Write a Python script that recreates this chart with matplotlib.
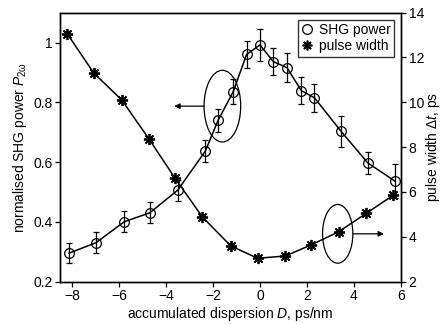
import matplotlib
matplotlib.use("Agg")
import matplotlib.pyplot as plt
from matplotlib.patches import Ellipse

plt.rcParams['font.family'] = ['Liberation Sans', 'DejaVu Sans']
plt.rcParams['mathtext.fontset'] = 'custom'
plt.rcParams['mathtext.rm'] = 'Liberation Sans'
plt.rcParams['mathtext.it'] = 'Liberation Sans:italic'

# SHG power (left axis)
shg_d = [-8.13, -6.98, -5.78, -4.69, -3.50, -2.33, -1.78, -1.14, -0.57, 0.0,
         0.57, 1.15, 1.76, 2.32, 3.45, 4.59, 5.73]
shg_p = [0.295, 0.33, 0.40, 0.43, 0.506, 0.636, 0.74, 0.835, 0.96, 0.992,
         0.936, 0.916, 0.839, 0.815, 0.703, 0.597, 0.537]
shg_err = [0.034, 0.035, 0.035, 0.035, 0.035, 0.037, 0.039, 0.042, 0.046, 0.053,
           0.045, 0.049, 0.045, 0.046, 0.052, 0.037, 0.057]

# pulse width (right axis)
pw_d = [-8.2, -7.07, -5.88, -4.71, -3.62, -2.45, -1.24, -0.1, 1.08, 2.17,
        3.35, 4.52, 5.67]
pw_t = [13.05, 11.3, 10.1, 8.34, 6.62, 4.88, 3.59, 3.04, 3.14, 3.63,
        4.22, 5.04, 5.85]

fig = plt.figure(figsize=(4.42, 3.24), dpi=100)
ax = fig.add_axes([0.1364, 0.131, 0.7706, 0.830])
ax2 = ax.twinx()

fs = 10
star = (8, 2, 0)

ax.errorbar(shg_d, shg_p, yerr=shg_err, color='black', lw=1.1,
            marker='o', mfc='none', mec='black', ms=7, mew=0.9,
            capsize=2.2, elinewidth=0.9, capthick=0.9)
ax2.plot(pw_d, pw_t, color='black', lw=1.1, marker=star, ms=8, mew=1.3)

ax.set_xlim(-8.5, 6)
ax.set_ylim(0.2, 1.1)
ax2.set_ylim(2, 14)
ax.set_xticks([-8, -6, -4, -2, 0, 2, 4, 6])
ax.set_xticklabels(['\u22128', '\u22126', '\u22124', '\u22122', '0', '2', '4', '6'])
ax.set_yticks([0.2, 0.4, 0.6, 0.8, 1.0])
ax.set_yticklabels(['0.2', '0.4', '0.6', '0.8', '1'])
ax2.set_yticks([2, 4, 6, 8, 10, 12, 14])

for a in (ax, ax2):
    a.tick_params(direction='out', length=3.5, width=0.9, labelsize=fs, pad=2)
    for s in a.spines.values():
        s.set_linewidth(1.0)

ax.set_xlabel('accumulated dispersion $\\it{D}$, ps/nm', fontsize=fs, labelpad=1)
ax.set_ylabel('normalised SHG power $\\it{P}_{\\rm 2\u03c9}$', fontsize=fs, labelpad=3)
ax2.set_ylabel('pulse width \u0394$\\it{t}$, ps', fontsize=fs, labelpad=0)

# ellipses and arrows
ax.add_patch(Ellipse((-1.6, 0.787), 1.56, 0.24, fill=False, lw=0.9, ec='black'))
ax.annotate('', xy=(-3.65, 0.787), xytext=(-2.38, 0.787),
            arrowprops=dict(arrowstyle='-|>', color='black', lw=0.9,
                            mutation_scale=8, shrinkA=0, shrinkB=0))
ax2.add_patch(Ellipse((3.31, 4.13), 1.29, 2.62, fill=False, lw=0.9, ec='black'))
ax2.annotate('', xy=(5.28, 4.13), xytext=(3.96, 4.13),
             arrowprops=dict(arrowstyle='-|>', color='black', lw=0.9,
                             mutation_scale=8, shrinkA=0, shrinkB=0))

# legend
h1, = ax.plot([], [], ls='none', marker='o', mfc='none', mec='black', ms=7, mew=0.9)
h2, = ax.plot([], [], ls='none', marker=star, color='black', ms=7, mew=1.2)
leg = ax.legend([h1, h2], ['SHG power', 'pulse width'], loc='upper right',
                fontsize=fs, frameon=True, fancybox=False, handlelength=0.8,
                handletextpad=0.4, borderpad=0.25, labelspacing=0.15,
                borderaxespad=0.5)
leg.get_frame().set_edgecolor('black')
leg.get_frame().set_linewidth(1.0)

fig.savefig('out.png', dpi=100)
